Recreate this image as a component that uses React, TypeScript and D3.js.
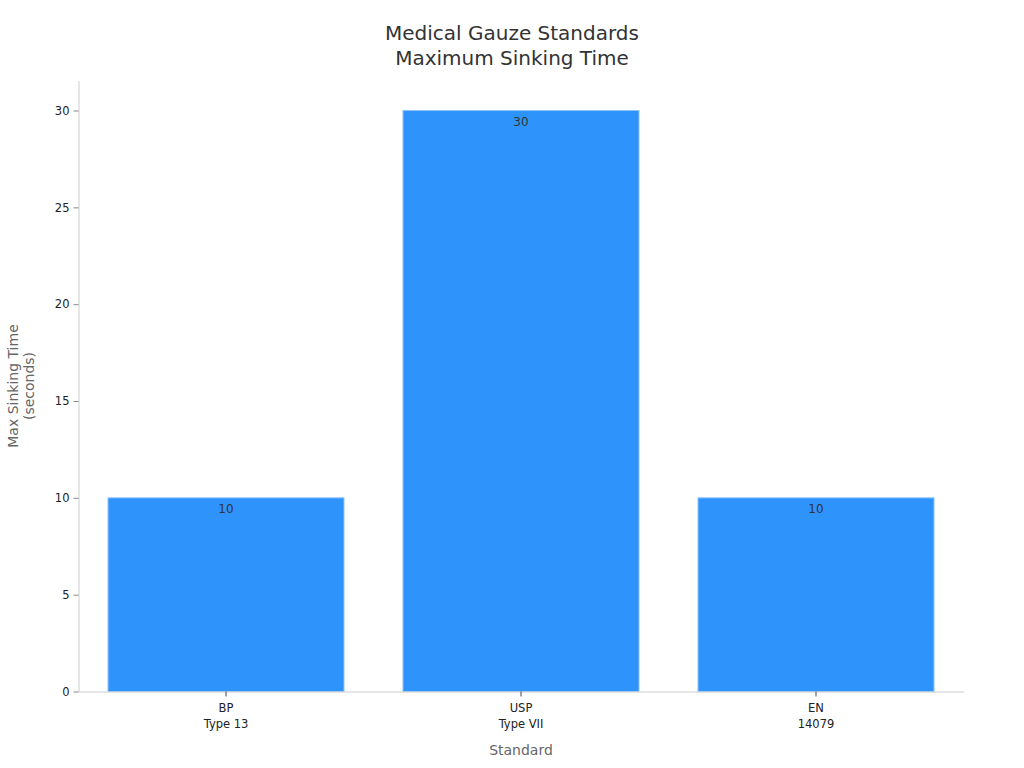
import React, { useEffect, useRef } from 'react';
import * as d3 from 'd3';

const standards = ['BP\nType 13', 'USP\nType VII', 'EN\n14079'];
const sinkingTimes = [10, 30, 10];
const yTicks = [0, 5, 10, 15, 20, 25, 30];

const W = 1024;
const H = 768;
const margin = { top: 80.5, right: 60.5, bottom: 76.5, left: 78.5 };
const FONT = 'DejaVu Sans, sans-serif';

const App: React.FC = () => {
	const ref = useRef<SVGSVGElement>(null);

	useEffect(() => {
		if (!ref.current) return;
		const svg = d3.select(ref.current);
		svg.selectAll('*').remove();

		const width = W - margin.left - margin.right;
		const height = H - margin.top - margin.bottom;

		const x = d3
			.scaleBand<string>()
			.domain(standards)
			.range([0, width])
			.paddingInner(0.2)
			.paddingOuter(0.1);
		const y = d3.scaleLinear().domain([0, 31.55]).range([height, 0]);

		const g = svg
			.append('g')
			.attr('transform', `translate(${margin.left},${margin.top})`);

		// title
		svg
			.append('text')
			.attr('x', W / 2)
			.attr('text-anchor', 'middle')
			.attr('font-family', FONT)
			.attr('font-size', 20)
			.attr('fill', '#333')
			.selectAll('tspan')
			.data(['Medical Gauze Standards', 'Maximum Sinking Time'])
			.enter()
			.append('tspan')
			.attr('x', W / 2)
			.attr('y', (d, i) => 40 + i * 25)
			.text((d) => d);

		// bars
		g.selectAll('.bar')
			.data(sinkingTimes)
			.enter()
			.append('rect')
			.attr('x', (d, i) => x(standards[i]) as number)
			.attr('y', (d) => y(d))
			.attr('width', x.bandwidth())
			.attr('height', (d) => height - y(d))
			.attr('fill', '#2e93fa')
			.attr('stroke', '#8cc3fc')
			.attr('stroke-width', 1);

		g.selectAll('.val')
			.data(sinkingTimes)
			.enter()
			.append('text')
			.attr('x', (d, i) => (x(standards[i]) as number) + x.bandwidth() / 2)
			.attr('y', (d) => y(d) + 15)
			.attr('text-anchor', 'middle')
			.attr('font-family', FONT)
			.attr('font-size', 12)
			.attr('fill', '#333')
			.text((d) => d);

		// y axis
		const gy = g
			.append('g')
			.call(d3.axisLeft(y).tickValues(yTicks).tickSize(5).tickPadding(4).tickSizeOuter(0));
		gy.select('.domain').attr('stroke', '#ccc');
		gy.selectAll('.tick line').attr('stroke', '#888');
		gy.selectAll('.tick text')
			.attr('font-family', FONT)
			.attr('font-size', 11.5)
			.attr('fill', '#222');

		// x axis
		const gx = g
			.append('g')
			.attr('transform', `translate(0,${height})`)
			.call(d3.axisBottom(x).tickSize(5).tickSizeOuter(0).tickFormat(() => ''));
		gx.select('.domain').attr('stroke', '#ccc');
		gx.selectAll('.tick line').attr('stroke', '#444');
		gx.selectAll<SVGGElement, string>('.tick').each(function (d) {
			const t = d3
				.select(this)
				.append('text')
				.attr('text-anchor', 'middle')
				.attr('font-family', FONT)
				.attr('font-size', 11.5)
				.attr('fill', '#222');
			d.split('\n').forEach((line, i) => {
				t.append('tspan')
					.attr('x', 0)
					.attr('y', 20 + i * 16)
					.text(line);
			});
		});

		// axis labels
		svg
			.append('text')
			.attr('x', margin.left + width / 2)
			.attr('y', 755)
			.attr('text-anchor', 'middle')
			.attr('font-family', FONT)
			.attr('font-size', 14)
			.attr('fill', '#666')
			.text('Standard');

		const yl = svg
			.append('text')
			.attr('transform', `translate(0,${margin.top + height / 2}) rotate(-90)`)
			.attr('text-anchor', 'middle')
			.attr('font-family', FONT)
			.attr('font-size', 14)
			.attr('fill', '#666');
		['Max Sinking Time', '(seconds)'].forEach((line, i) => {
			yl.append('tspan')
				.attr('x', 0)
				.attr('y', 18 + i * 16)
				.text(line);
		});
	}, []);

	return <svg ref={ref} width={W} height={H} style={{ display: 'block', position: 'absolute', left: 0, top: 0 }} />;
};

export default App;
